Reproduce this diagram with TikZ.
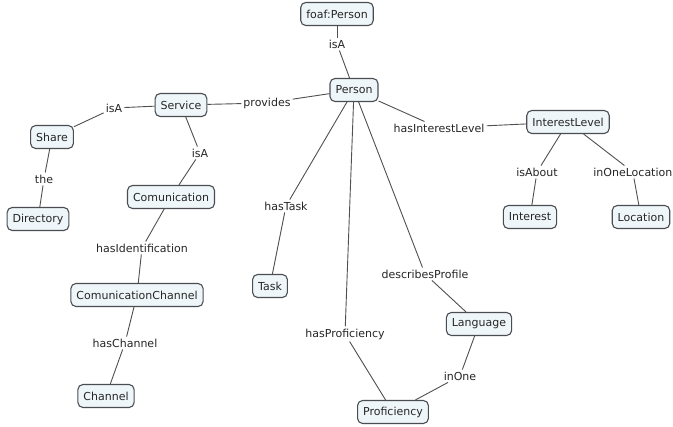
\documentclass[tikz,border=0pt]{standalone}
\usepackage{fontspec}
\setsansfont{DejaVu Sans}
\definecolor{boxfill}{HTML}{EFF6FA}
\definecolor{boxline}{HTML}{4A4E52}
\definecolor{linkline}{HTML}{505050}

\begin{document}
\begin{tikzpicture}[x=1pt,y=-1pt,
		main node/.style={rectangle,rounded corners=5pt,draw=boxline,line width=1.1pt,fill=boxfill,
			font=\sffamily\fontsize{11}{13}\selectfont,text=black!85,minimum height=23pt,inner xsep=5.5pt},
		link node/.style={font=\sffamily\fontsize{11}{13}\selectfont,text=black!85,inner sep=2pt}]
		
		\useasboundingbox[fill=white] (0,0) rectangle (673,427);
		
		% concepts
		\node[main node] (1) at (354,90) {Person};
		\node[main node] (2) at (337,14) {foaf:Person};
		\node[main node] (3) at (181,105) {Service};
		\node[main node] (4) at (52,137) {Share};
		\node[main node] (5) at (38,219) {Directory};
		\node[main node] (6) at (171,197) {Comunication};
		\node[main node] (7) at (137,295) {ComunicationChannel};
		\node[main node] (8) at (106,396) {Channel};
		\node[main node] (9) at (270,286) {Task};
		\node[main node] (10) at (568,122) {InterestLevel};
		\node[main node] (11) at (530,217) {Interest};
		\node[main node] (12) at (641,217) {Location};
		\node[main node] (13) at (479,324) {Language};
		\node[main node] (14) at (393,412) {Proficiency};
		
		% link phrases
		\node[link node] (a) at (337,44) {isA};
		\node[link node] (b) at (267,103) {provides};
		\node[link node] (c) at (114,108) {isA};
		\node[link node] (d) at (200,153) {isA};
		\node[link node] (e) at (44,179) {the};
		\node[link node] (f) at (142,248) {hasIdentification};
		\node[link node] (g) at (125,343) {hasChannel};
		\node[link node] (h) at (286,206) {hasTask};
		\node[link node] (i) at (439,128) {hasInterestLevel};
		\node[link node] (j) at (537,172) {isAbout};
		\node[link node,anchor=east,inner xsep=0.5pt] (k) at (673,172) {inOneLocation};
		\node[link node] (l) at (425,274) {describesProfile};
		\node[link node] (m) at (345,334) {hasProficiency};
		\node[link node] (n) at (460,376) {inOne};
		
		\path[draw=linkline,line width=0.9pt]
		(2) edge (a) (a) edge (1)
		(3) edge (b) (b) edge (1)
		(4) edge (c) (c) edge (3)
		(3) edge (d) (d) edge (6)
		(4) edge (e) (e) edge (5)
		(6) edge (f) (f) edge (7)
		(7) edge (g) (g) edge (8)
		(1) edge (h) (h) edge (9)
		(1) edge (i) (i) edge (10)
		(10) edge (j) (j) edge (11)
		(10) edge (k) (k) edge (12)
		(1) edge (l) (l) edge (13)
		(1) edge (m) (m) edge (14)
		(13) edge (n) (n) edge (14);
\end{tikzpicture}
\end{document}
